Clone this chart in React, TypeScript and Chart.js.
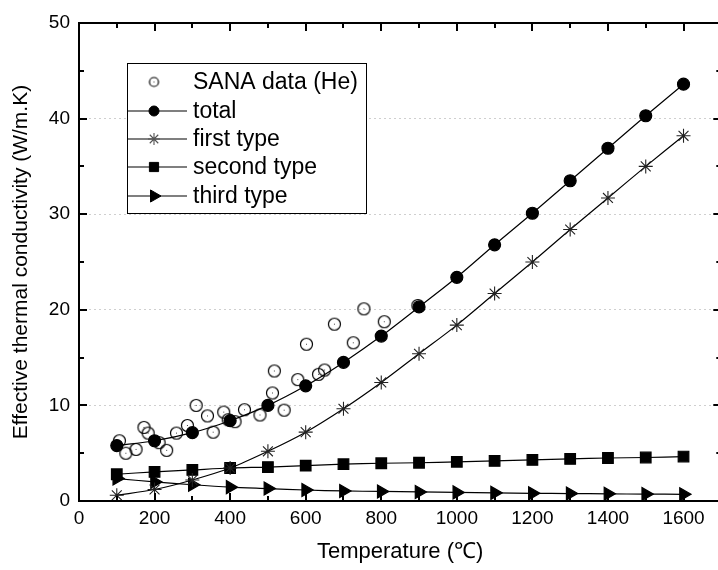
import React, { useEffect, useRef } from 'react';
import { Chart, registerables } from 'chart.js';
import { drawPoint } from 'chart.js/helpers';

Chart.register(...registerables);

// ---------- data ----------
const temperatures = [100, 200, 300, 400, 500, 600, 700, 800, 900, 1000, 1100, 1200, 1300, 1400, 1500, 1600];
const totalK = [5.8, 6.3, 7.15, 8.4, 10.0, 12.05, 14.5, 17.25, 20.3, 23.4, 26.8, 30.1, 33.5, 36.9, 40.3, 43.6];
const firstTypeK = [0.6, 1.2, 2.2, 3.45, 5.2, 7.2, 9.65, 12.4, 15.4, 18.4, 21.7, 25.0, 28.4, 31.7, 35.0, 38.2];
const secondTypeK = [2.8, 3.05, 3.25, 3.45, 3.55, 3.7, 3.85, 3.95, 4.0, 4.1, 4.2, 4.3, 4.4, 4.5, 4.55, 4.65];
const thirdTypeK = [2.35, 2.0, 1.7, 1.45, 1.3, 1.15, 1.05, 1.0, 0.95, 0.9, 0.85, 0.8, 0.78, 0.75, 0.72, 0.7];

const sanaTemperature = [107, 124, 151, 172, 183, 212, 232, 258, 287, 310, 340, 355, 383, 395, 413, 438, 479, 512, 517, 543, 579, 602, 634, 650, 676, 726, 754, 808, 897];
const sanaK = [6.3, 5.0, 5.4, 7.7, 7.1, 6.1, 5.3, 7.1, 7.9, 10.0, 8.9, 7.2, 9.3, 8.5, 8.3, 9.55, 9.0, 11.3, 13.6, 9.5, 12.7, 16.4, 13.25, 13.7, 18.5, 16.55, 20.1, 18.75, 20.45];

const seriesLabels = ['SANA data (He)', 'total', 'first type', 'second type', 'third type'];
const xAxisTitle = 'Temperature (\u2103)';
const yAxisTitle = 'Effective thermal conductivity (W/m.K)';
const xMin = 0, xMax = 1700, xMajor = 200, xMinor = 100;
const yMin = 0, yMax = 50, yMajor = 10, yMinor = 5;

const FONT = "'Liberation Sans', Arial, Helvetica, sans-serif";
const CANVAS_W = 730;
const CANVAS_H = 570;

function makeOpenCircle(r: number): HTMLCanvasElement {
  const s = 2 * Math.ceil(r + 2) + 1;
  const c = document.createElement('canvas');
  c.width = s;
  c.height = s;
  const g = c.getContext('2d')!;
  const m = s / 2;
  g.strokeStyle = '#000';
  g.lineWidth = 1.2;
  g.beginPath();
  g.arc(m, m, r, 0, Math.PI * 2);
  g.stroke();
  g.fillStyle = '#444';
  g.fillRect(Math.floor(m), Math.floor(m), 1, 1);
  return c;
}

function pts(xs: number[], ys: number[]) {
  return xs.map((x, i) => ({ x, y: ys[i] }));
}

const frameTicksPlugin = {
  id: 'frameTicks',
  afterDatasetsDraw(chart: any) {
    const { ctx, chartArea } = chart;
    const { left, right, top, bottom } = chartArea;
    const xs = chart.scales.x;
    const ys = chart.scales.y;
    ctx.save();
    ctx.strokeStyle = '#000';
    ctx.lineWidth = 2;
    ctx.beginPath();
    for (let v = xMin; v <= xMax; v += xMinor) {
      const px = Math.round(xs.getPixelForValue(v));
      const len = v % xMajor === 0 ? 8 : 5;
      ctx.moveTo(px, bottom);
      ctx.lineTo(px, bottom - len);
      ctx.moveTo(px, top);
      ctx.lineTo(px, top + len);
    }
    for (let v = yMin; v <= yMax; v += yMinor) {
      const py = Math.round(ys.getPixelForValue(v));
      const len = v % yMajor === 0 ? 8 : 5;
      ctx.moveTo(left, py);
      ctx.lineTo(left + len, py);
      ctx.moveTo(right, py);
      ctx.lineTo(right - len, py);
    }
    ctx.stroke();
    ctx.lineWidth = 2;
    ctx.strokeRect(left, top, right - left, bottom - top);
    ctx.restore();
  },
  afterDraw(chart: any) {
    const { ctx } = chart;
    const boxL = 127, boxT = 63, boxR = 366, boxB = 213;
    const rowY = [82, 111, 139, 167, 196];
    const lineL = 128, lineR = 187, markX = 154, textX = 193;
    ctx.save();
    ctx.fillStyle = '#fff';
    ctx.fillRect(boxL, boxT, boxR - boxL, boxB - boxT);
    ctx.strokeStyle = '#000';
    ctx.lineWidth = 1;
    ctx.strokeRect(boxL + 0.5, boxT + 0.5, boxR - boxL, boxB - boxT);
    chart.data.datasets.forEach((ds: any, i: number) => {
      const y = rowY[i];
      if (ds.showLine !== false) {
        ctx.strokeStyle = '#000';
        ctx.lineWidth = 1.2;
        ctx.beginPath();
        ctx.moveTo(lineL, y);
        ctx.lineTo(lineR, y);
        ctx.stroke();
      }
      ctx.fillStyle = ds.legendMarkColor || '#000';
      ctx.strokeStyle = ds.legendMarkColor || '#000';
      ctx.lineWidth = ds.pointBorderWidth || 1;
      drawPoint(ctx, {
        pointStyle: ds.legendPointStyle || ds.pointStyle,
        rotation: ds.pointRotation || 0,
        radius: ds.legendRadius || ds.pointRadius,
        borderWidth: ds.pointBorderWidth || 1,
      } as any, markX, y);
      ctx.fillStyle = '#000';
      ctx.font = `23px ${FONT}`;
      ctx.textBaseline = 'middle';
      ctx.textAlign = 'left';
      ctx.fillText(ds.label, textX, y + 1);
    });
    ctx.restore();
  },
};

export default function App() {
  const canvasRef = useRef<HTMLCanvasElement | null>(null);

  useEffect(() => {
    if (!canvasRef.current) return;
    const openCircle = makeOpenCircle(6);
    const legendCircle = makeOpenCircle(4.5);
    const lineCommon = {
      type: 'line' as const,
      borderColor: '#000',
      borderWidth: 1.2,
      backgroundColor: '#000',
      pointBackgroundColor: '#000',
      pointBorderColor: '#000',
      tension: 0.3,
      fill: false,
    };
    const chart = new Chart(canvasRef.current, {
      type: 'line',
      data: {
        datasets: [
          {
            type: 'scatter',
            label: seriesLabels[0],
            data: pts(sanaTemperature, sanaK),
            pointStyle: openCircle as any,
            legendPointStyle: legendCircle,
            pointRadius: 6,
            showLine: false,
            order: 10,
          } as any,
          {
            ...lineCommon,
            label: seriesLabels[1],
            data: pts(temperatures, totalK),
            pointStyle: 'circle',
            pointRadius: 6,
            legendRadius: 5,
            order: 1,
          },
          {
            ...lineCommon,
            label: seriesLabels[2],
            data: pts(temperatures, firstTypeK),
            pointStyle: 'star',
            pointRadius: 7,
            legendRadius: 6,
            pointBorderWidth: 1.1,
            pointBorderColor: '#222',
            legendMarkColor: '#555',
            order: 2,
          },
          {
            ...lineCommon,
            label: seriesLabels[3],
            data: pts(temperatures, secondTypeK),
            pointStyle: 'rect',
            pointRadius: 7.5,
            legendRadius: 6.5,
            order: 3,
          },
          {
            ...lineCommon,
            label: seriesLabels[4],
            data: pts(temperatures, thirdTypeK),
            pointStyle: 'triangle',
            pointRotation: 90,
            pointRadius: 7.5,
            legendRadius: 7,
            order: 4,
          },
        ],
      },
      options: {
        animation: false,
        responsive: false,
        maintainAspectRatio: false,
        layout: { padding: { top: 23, right: 8, bottom: 0, left: 0 } },
        plugins: {
          legend: { display: false },
          tooltip: { enabled: false },
        },
        scales: {
          x: {
            type: 'linear',
            min: xMin,
            max: xMax,
            afterFit: (s: any) => { s.height = 69; s.paddingRight = 0; },
            grid: { display: false, drawTicks: false },
            border: { display: false },
            ticks: {
              stepSize: xMajor,
              includeBounds: false,
              autoSkip: false,
              padding: 6,
              color: '#000',
              font: { family: FONT, size: 19 },
              maxRotation: 0,
              callback: (v: any) => String(v),
            },
            title: {
              display: true,
              text: xAxisTitle,
              color: '#000',
              font: { family: FONT, size: 22 },
              padding: { top: 0, bottom: 5 },
            },
          },
          y: {
            type: 'linear',
            min: yMin,
            max: yMax,
            afterFit: (s: any) => { s.width = 79; },
            grid: {
              drawTicks: false,
              color: (c: any) => (c.tick && (c.tick.value === yMin || c.tick.value === yMax) ? 'rgba(0,0,0,0)' : '#cfcfcf'),
              lineWidth: 1,
            },
            border: { display: false, dash: [2, 3] },
            ticks: {
              stepSize: yMajor,
              padding: 9,
              color: '#000',
              font: { family: FONT, size: 19 },
            },
            title: {
              display: true,
              text: yAxisTitle,
              color: '#000',
              font: { family: FONT, size: 21 },
              padding: { top: 9, bottom: 0 },
            },
          },
        },
      } as any,
      plugins: [frameTicksPlugin],
    });
    return () => chart.destroy();
  }, []);

  return (
    <div style={{ position: 'absolute', left: 0, top: 0, width: 718, height: 570, overflow: 'hidden', background: '#fff' }}>
      <canvas ref={canvasRef} width={CANVAS_W} height={CANVAS_H} style={{ display: 'block', width: CANVAS_W, height: CANVAS_H }} />
    </div>
  );
}
